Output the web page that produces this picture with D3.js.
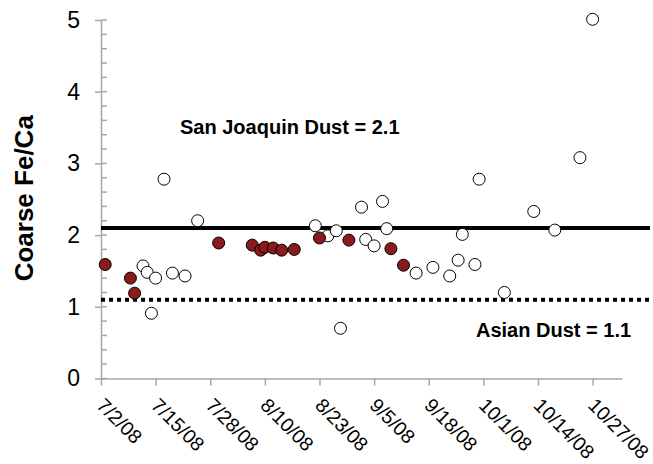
<!DOCTYPE html>
<html>
<head>
<meta charset="utf-8">
<script src="https://cdn.jsdelivr.net/npm/d3@7"></script>
<style>
  body { margin: 0; background: #fff; }
  text { font-family: "Liberation Sans", Arial, sans-serif; }
</style>
</head>
<body>
<div id="chart"></div>
<script>
// filled (dark red) samples
var filledDates = ['7/3/08', '7/9/08', '7/10/08', '7/30/08', '8/7/08', '8/9/08', '8/10/08',
    '8/12/08', '8/14/08', '8/17/08', '8/23/08', '8/30/08', '9/9/08', '9/12/08']
var filledValues = [1.59, 1.40, 1.19, 1.89, 1.86, 1.79, 1.83, 1.82, 1.79, 1.80, 1.96, 1.93, 1.81, 1.58]

// open samples
var openDates = ['7/12/08', '7/13/08', '7/14/08', '7/15/08', '7/17/08', '7/19/08', '7/22/08', '7/25/08',
    '8/22/08', '8/25/08', '8/27/08', '8/28/08', '9/2/08', '9/3/08', '9/5/08', '9/7/08', '9/8/08',
    '9/15/08', '9/19/08', '9/23/08', '9/25/08', '9/26/08', '9/29/08', '9/30/08', '10/6/08',
    '10/13/08', '10/18/08', '10/24/08', '10/27/08']
var openValues = [1.57, 1.48, 0.91, 1.40, 2.78, 1.47, 1.43, 2.20,
    2.13, 1.99, 2.06, 0.70, 2.39, 1.94, 1.85, 2.47, 2.09,
    1.47, 1.55, 1.43, 1.65, 2.01, 1.59, 2.78, 1.20,
    2.33, 2.07, 3.08, 5.01]

var tickLabels = ['7/2/08', '7/15/08', '7/28/08', '8/10/08', '8/23/08', '9/5/08', '9/18/08', '10/1/08', '10/14/08', '10/27/08']
var yTicks = [0, 1, 2, 3, 4, 5]

var refLines = [{ name: 'San Joaquin Dust = 2.1', value: 2.1 }, { name: 'Asian Dust = 1.1', value: 1.1 }]

var parse = d3.timeParse('%m/%d/%y')

var width = 653, height = 464
var plotLeft = 101, plotRight = 622, plotTop = 20, plotBottom = 378.5

var svg = d3.select('#chart').append('svg')
    .attr('width', width)
    .attr('height', height)

var x = d3.scaleTime()
    .domain([parse('7/2/08'), parse('11/3/08')])
    .range([plotLeft, plotRight])

var y = d3.scaleLinear()
    .domain([0, 5])
    .range([plotBottom, plotTop])

// axes
var yAxis = svg.append('g')
    .attr('transform', 'translate(' + plotLeft + ',0)')
    .call(d3.axisLeft(y).tickValues(yTicks).tickSize(6).tickSizeOuter(0).tickFormat(d3.format('d')))
yAxis.select('.domain').attr('stroke', '#a6a6a6').attr('stroke-width', 1.5)
yAxis.selectAll('.tick line').attr('stroke', '#a6a6a6').attr('stroke-width', 1.5).attr('x2', -6)
yAxis.selectAll('.tick text').attr('font-size', 23).attr('fill', '#000').attr('x', -21)
    .style('font-family', '"Liberation Sans", Arial, sans-serif')
// minor ticks inside
yAxis.selectAll('.minor')
    .data(d3.range(0, 5.01, 0.2))
    .enter().append('line')
    .attr('x1', 0).attr('x2', 6)
    .attr('y1', function (d) { return y(d) })
    .attr('y2', function (d) { return y(d) })
    .attr('stroke', '#a6a6a6').attr('stroke-width', 1.5)

var xAxis = svg.append('g')
    .attr('transform', 'translate(0,' + plotBottom + ')')
    .call(d3.axisBottom(x).tickValues(tickLabels.map(parse)).tickSize(7).tickSizeOuter(0)
        .tickFormat(function (d, i) { return tickLabels[i] }))
xAxis.select('.domain').attr('stroke', '#a6a6a6').attr('stroke-width', 1.5)
xAxis.selectAll('.tick line').attr('stroke', '#a6a6a6').attr('stroke-width', 1.5)
xAxis.selectAll('.tick text')
    .attr('font-size', 19.5).attr('fill', '#000')
    .style('font-family', '"Liberation Sans", Arial, sans-serif')
    .attr('text-anchor', 'start')
    .attr('dy', null)
    .attr('y', 0)
    .attr('transform', 'translate(-6,28) rotate(45)')

// y title
svg.append('text')
    .attr('transform', 'translate(33,' + ((plotTop + plotBottom) / 2 - 1) + ') rotate(-90)')
    .attr('text-anchor', 'middle')
    .attr('font-size', 26)
    .attr('font-weight', 'bold')
    .text('Coarse Fe/Ca')

// reference lines
svg.append('line')
    .attr('x1', plotLeft).attr('x2', 650)
    .attr('y1', y(refLines[0].value)).attr('y2', y(refLines[0].value))
    .attr('stroke', '#000').attr('stroke-width', 4)
svg.append('line')
    .attr('x1', plotLeft).attr('x2', 653)
    .attr('y1', y(refLines[1].value)).attr('y2', y(refLines[1].value))
    .attr('stroke', '#000').attr('stroke-width', 4)
    .attr('stroke-dasharray', '4,4')

svg.append('text')
    .attr('x', 180).attr('y', 134)
    .attr('font-size', 20).attr('font-weight', 'bold')
    .text(refLines[0].name)
svg.append('text')
    .attr('x', 476).attr('y', 337)
    .attr('font-size', 20).attr('font-weight', 'bold')
    .text(refLines[1].name)

// points
var openData = openDates.map(function (d, i) { return { date: parse(d), value: openValues[i] } })
var filledData = filledDates.map(function (d, i) { return { date: parse(d), value: filledValues[i] } })

svg.append('g').selectAll('circle')
    .data(openData)
    .enter().append('circle')
    .attr('cx', function (d) { return x(d.date) })
    .attr('cy', function (d) { return y(d.value) })
    .attr('r', 6)
    .attr('fill', '#fff')
    .attr('stroke', '#000')
    .attr('stroke-width', 1)

svg.append('g').selectAll('circle')
    .data(filledData)
    .enter().append('circle')
    .attr('cx', function (d) { return x(d.date) })
    .attr('cy', function (d) { return y(d.value) })
    .attr('r', 6)
    .attr('fill', '#8b1a1a')
    .attr('stroke', '#000')
    .attr('stroke-width', 1)
</script>
</body>
</html>
